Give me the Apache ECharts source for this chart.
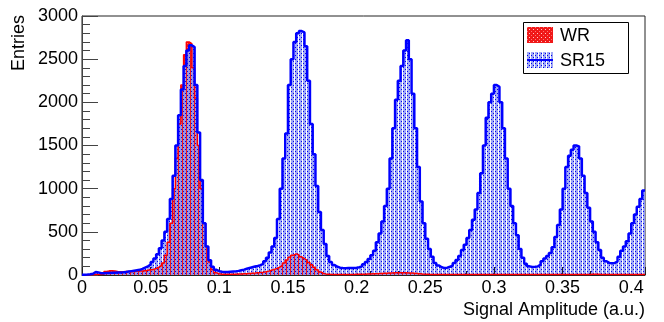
<!DOCTYPE html>
<html>
<head>
<meta charset="utf-8">
<script src="https://cdn.jsdelivr.net/npm/echarts@6/dist/echarts.min.js"></script>
<style>
html, body { margin: 0; padding: 0; background: #fff; }
#chart { width: 664px; height: 322px; }
</style>
</head>
<body>
<div id="chart"></div>
<script>
// histogram binning (x in a.u.)
var binStart = 0;
var binWidth = 0.002;
var xMax = 0.41;

// WR entries per bin
var wrCounts = [
    0, 0, 2, 3, 5, 5, 5, 10, 40, 48,
    50, 45, 40, 38, 38, 40, 40, 38, 40, 42,
    45, 45, 50, 55, 60, 65, 75, 90, 110, 140,
    230, 380, 600, 1000, 1350, 1750, 2200, 2550, 2700, 2680,
    2400, 2050, 1500, 1000, 600, 330, 150, 60, 25, 15,
    10, 10, 8, 8, 10, 10, 12, 12, 15, 15,
    18, 20, 22, 25, 28, 32, 38, 45, 55, 65,
    75, 90, 110, 140, 175, 205, 230, 245, 235, 210,
    190, 170, 145, 120, 90, 60, 35, 18, 10, 8,
    5, 5, 5, 5, 5, 5, 6, 6, 7, 8,
    8, 10, 10, 12, 12, 14, 15, 16, 18, 20,
    20, 22, 24, 25, 25, 26, 26, 25, 24, 22,
    20, 18, 15, 12, 10, 8, 6, 5, 5, 5,
    5, 5, 5, 5, 5, 5, 5, 5, 5, 5,
    5, 5, 5, 5, 5, 6, 6, 6, 6, 6,
    6, 6, 6, 6, 5, 5, 5, 5, 5, 5,
    5, 5, 5, 5, 5, 5, 5, 5, 5, 5,
    5, 5, 5, 5, 5, 5, 5, 6, 6, 6,
    6, 6, 6, 6, 6, 8, 10, 8, 6, 5,
    5, 5, 5, 5, 5, 5, 5, 5, 5, 5,
    5, 5, 5, 5, 5
];

// SR15 entries per bin
var sr15Counts = [
    3, 5, 8, 15, 35, 30, 20, 20, 22, 22,
    25, 25, 28, 30, 32, 35, 40, 45, 50, 55,
    60, 70, 85, 100, 120, 150, 190, 240, 310, 400,
    500, 650, 880, 1150, 1500, 1850, 2150, 2420, 2600, 2660,
    2640, 2200, 1650, 1100, 600, 330, 170, 95, 60, 45,
    38, 35, 35, 38, 40, 42, 48, 55, 62, 72,
    82, 90, 98, 105, 115, 130, 160, 200, 260, 330,
    430, 650, 1000, 1350, 1640, 2200, 2500, 2700, 2800, 2825,
    2810, 2650, 2250, 1750, 1400, 1030, 730, 520, 360, 220,
    150, 115, 95, 85, 80, 78, 80, 80, 82, 85,
    90, 100, 125, 150, 185, 230, 280, 380, 480, 620,
    800, 1000, 1350, 1700, 2030, 2250, 2420, 2600, 2720, 2500,
    2100, 1700, 1250, 850, 600, 420, 300, 210, 140, 110,
    90, 80, 85, 95, 110, 140, 175, 220, 290, 350,
    430, 520, 640, 760, 950, 1180, 1500, 1820, 2000, 2100,
    2200, 2180, 2000, 1700, 1350, 1000, 800, 600, 460, 300,
    200, 130, 100, 92, 95, 100, 120, 160, 190, 220,
    255, 320, 440, 580, 760, 1000, 1250, 1380, 1450, 1500,
    1490, 1350, 1150, 950, 780, 620, 500, 380, 290, 200,
    160, 140, 135, 140, 155, 210, 280, 330, 390, 480,
    600, 700, 790, 880, 980
];

var seriesNames = ['WR', 'SR15'];

// bin left edges + closing point -> step line
function toSteps(counts) {
    var pts = [];
    for (var i = 0; i < counts.length; i++) {
        pts.push([binStart + i * binWidth, counts[i]]);
    }
    pts.push([xMax, counts[counts.length - 1]]);
    return pts;
}

function makePattern(draw) {
    var c = document.createElement('canvas');
    c.width = 4;
    c.height = 4;
    draw(c.getContext('2d'));
    return { image: c, repeat: 'repeat' };
}

var redFill = makePattern(function (ctx) {
    ctx.fillStyle = '#f01818';
    ctx.fillRect(0, 0, 4, 4);
    ctx.fillStyle = '#ffc8c8';
    ctx.fillRect(1, 1, 1, 1);
    ctx.fillStyle = '#ff7070';
    ctx.fillRect(3, 3, 1, 1);
});

var blueFill = makePattern(function (ctx) {
    ctx.fillStyle = 'rgba(150,160,245,0.9)';
    ctx.fillRect(0, 0, 2, 4);
    ctx.fillRect(3, 0, 1, 4);
    ctx.fillStyle = '#0000f0';
    ctx.fillRect(1, 1, 1, 1);
    ctx.fillRect(3, 3, 1, 1);
});

var font = "'Liberation Sans', Arial, Helvetica, sans-serif";

var myChart = echarts.init(document.getElementById('chart'));
var option = {
    animation: false,
    backgroundColor: '#fff',
    grid: {
        left: 82,
        right: 19,
        top: 16,
        bottom: 47,
        show: true,
        borderColor: '#222',
        borderWidth: 1
    },
    xAxis: {
        type: 'value',
        min: 0,
        max: xMax,
        interval: 0.05,
        axisLine: { lineStyle: { color: '#222', width: 1 } },
        axisTick: { inside: true, length: 8, lineStyle: { color: '#222' } },
        minorTick: { show: true, splitNumber: 5, length: 4, lineStyle: { color: '#222' } },
        splitLine: { show: false },
        axisLabel: {
            margin: 4,
            showMaxLabel: false,
            color: '#000',
            fontSize: 18,
            fontFamily: font,
            formatter: function (v) { return String(+v.toFixed(3)); }
        }
    },
    yAxis: {
        type: 'value',
        min: 0,
        max: 3000,
        interval: 500,
        axisLine: { show: true, lineStyle: { color: '#444', width: 1 } },
        axisTick: { inside: true, length: 16, lineStyle: { color: '#444' } },
        minorTick: { show: true, splitNumber: 5, length: 8, lineStyle: { color: '#444' } },
        splitLine: { show: false },
        axisLabel: {
            margin: 4,
            color: '#000',
            fontSize: 18,
            fontFamily: font,
            formatter: function (v) { return String(v); }
        }
    },
    series: [
        {
            name: seriesNames[0],
            type: 'line',
            step: 'end',
            showSymbol: false,
            symbol: 'none',
            data: toSteps(wrCounts),
            lineStyle: { color: '#ff0000', width: 1.5 },
            areaStyle: { color: redFill, opacity: 1 }
        },
        {
            name: seriesNames[1],
            type: 'line',
            step: 'end',
            showSymbol: false,
            symbol: 'none',
            data: toSteps(sr15Counts),
            lineStyle: { color: '#0000ff', width: 2.5 },
            areaStyle: { color: blueFill, opacity: 1 }
        }
    ],
    graphic: [
        {
            type: 'text',
            x: 19,
            y: 15,
            rotation: Math.PI / 2,
            style: { text: 'Entries', fill: '#000', font: '18px ' + font, align: 'right', verticalAlign: 'middle' }
        },
        {
            type: 'text',
            x: 645,
            y: 310,
            style: { text: 'Signal Amplitude (a.u.)', fill: '#000', font: '18px ' + font, align: 'right', verticalAlign: 'middle' }
        },
        {
            type: 'rect',
            shape: { x: 523.5, y: 22.5, width: 105, height: 51 },
            style: { fill: '#fff', stroke: '#000', lineWidth: 1 },
            z: 10
        },
        {
            type: 'rect',
            shape: { x: 527, y: 27, width: 26, height: 16 },
            style: { fill: redFill },
            z: 11
        },
        {
            type: 'rect',
            shape: { x: 527, y: 52, width: 26, height: 16 },
            style: { fill: blueFill },
            z: 11
        },
        {
            type: 'line',
            shape: { x1: 527, y1: 60, x2: 553, y2: 60 },
            style: { stroke: '#0000ff', lineWidth: 2 },
            z: 12
        },
        {
            type: 'text',
            x: 560,
            y: 36,
            style: { text: seriesNames[0], fill: '#000', font: '18px ' + font, verticalAlign: 'middle' },
            z: 12
        },
        {
            type: 'text',
            x: 560,
            y: 61,
            style: { text: seriesNames[1], fill: '#000', font: '18px ' + font, verticalAlign: 'middle' },
            z: 12
        }
    ]
};
myChart.setOption(option);
</script>
</body>
</html>
